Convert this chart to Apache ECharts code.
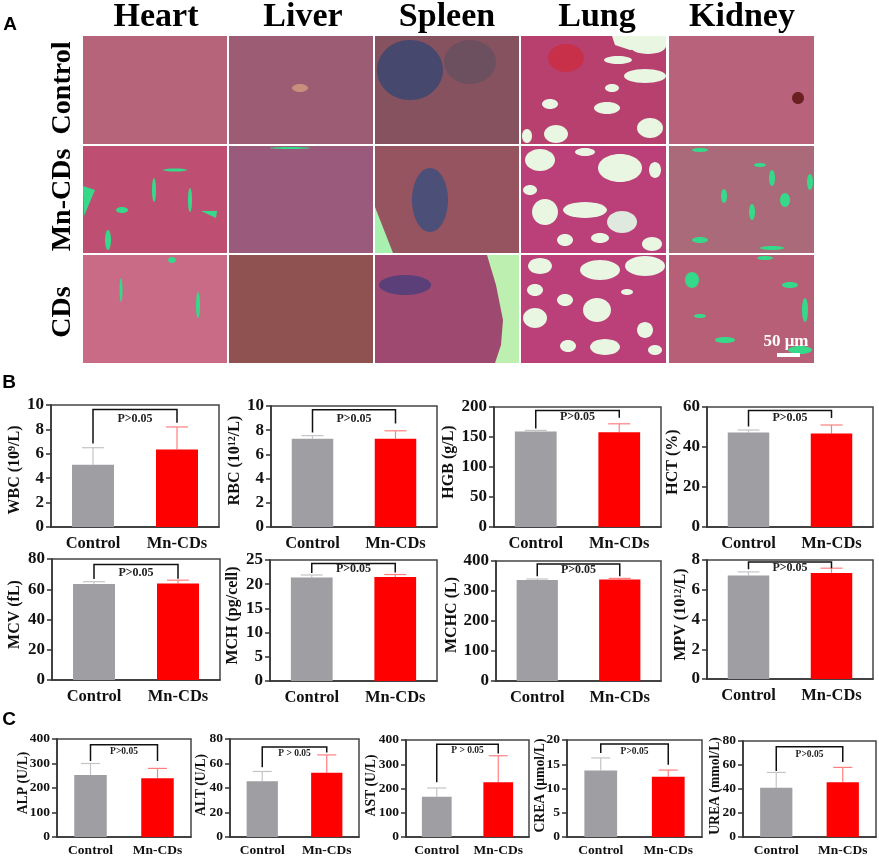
<!DOCTYPE html>
<html>
<head>
<meta charset="utf-8">
<script src="https://cdn.jsdelivr.net/npm/echarts@6/dist/echarts.min.js"></script>
<style>
    html, body { margin: 0; padding: 0; background: #fff; }
    #main { width: 879px; height: 858px; }
</style>
</head>
<body>
<div id="main"></div>
<script>
// Values, one entry per small chart
const categories = ["Control", "Mn-CDs"];
const metricNames = ["WBC (10{s|9}/L)", "RBC (10{s|12}/L)", "HGB (g/L)", "HCT (%)", "MCV (fL)", "MCH (pg/cell)", "MCHC (L)", "MPV (10{s|12}/L)", "ALP (U/L)", "ALT (U/L)", "AST (U/L)", "CREA (\u03bcmol/L)", "UREA (mmol/L)"];
const yMax = [10, 10, 200, 60, 80, 25, 400, 8, 400, 80, 400, 20, 80];
const yStep = [2, 2, 50, 20, 20, 5, 100, 2, 100, 20, 100, 5, 20];
const controlMean = [5.1, 7.3, 159, 47.2, 63.5, 21.4, 337, 6.95, 253, 45.5, 166, 13.7, 41];
const controlTop = [6.5, 7.55, 161, 48.5, 65, 21.9, 340, 7.2, 300, 53.5, 202, 16.3, 53.8];
const mnMean = [6.35, 7.3, 158, 46.7, 63.8, 21.5, 338, 7.12, 240, 52.5, 226, 12.4, 45.7];
const mnTop = [8.2, 7.95, 172, 51, 66, 22, 342, 7.45, 280, 67, 335, 13.8, 58];
const bracketTop = [9.64, 9.7, 194, 58.2, 76.3, 24.3, 390, 7.87, 377, 73.5, 382, 19.2, 75.3];
const bracketLeft = [6.85, 7.8, 164, 50.3, 66.8, 22.3, 349, 7.37, 310, 57, 226, 17.3, 55];
const bracketRight = [8.55, 8.55, 182, 54.5, 67, 22.4, 349, 7.45, 310, 68.9, 344, 14.9, 62.6];
const pLabelY = [8.9, 8.95, 183, 54.5, 71, 23.1, 369, 7.45, 350, 68, 355, 17.7, 69];
const pLabels = ["P>0.05", "P>0.05", "P>0.05", "P>0.05", "P>0.05", "P>0.05", "P>0.05", "P>0.05", "P>0.05", "P > 0.05", "P > 0.05", "P>0.05", "P>0.05"];

// Layout of the small charts: left, top, right, bottom, x of the y title, how far the title sits above the middle
const frames = [
    [51, 405, 219, 527, 15, -4], [271, 406, 437, 527, 235, 6], [494, 407, 661, 527, 449, 5], [707, 407, 873, 527, 673, 5],
    [52, 559, 220, 680, 15, 5], [270, 560, 437, 681, 233, 5], [496, 561, 661, 681, 452, 6], [707, 560, 873, 679, 681, 5],
    [57, 739, 191, 837, 23, 5], [230, 739, 359, 837, 201, 3], [406, 740, 529, 838, 371, 3], [567, 740, 702, 837, 540, 3], [743, 741, 876, 837, 715, 3]
];

const SERIF = '"Liberation Serif", serif';
const GREY = "#9e9ea3";
const RED = "#ff0000";

// Tissue panels of part A
const panelCols = [[83, 227], [229, 373], [375, 519], [521, 666], [669, 814]];
const panelRows = [[36, 144], [146, 253], [255, 363]];
const panelColors = [
    ["#b5647a", "#9b5c74", "#87525f", "#b8406f", "#b9627c"],
    ["#bf4f72", "#9a5a7c", "#95545f", "#bb3f78", "#aa6a7a"],
    ["#c96a86", "#8f5250", "#9e4a70", "#bb3f78", "#b85f78"]
];
const colNames = ["Heart", "Liver", "Spleen", "Lung", "Kidney"];
const colCenters = [156, 303, 447, 597, 742];
const rowNames = ["Control", "Mn-CDs", "CDs"];
const rowCenters = [88, 200, 312];

const PALE = "#e8f6e2";
const MINT = "#36d88a";
// cx, cy, rx, ry, colour
const panelBlobs = [
    [410, 70, 33, 30, "#46486e"], [430, 200, 18, 32, "#4c4f78"], [405, 285, 26, 10, "#5a3f78"], [470, 62, 26, 22, "#6c5060"],
    [300, 88, 8, 4, "#c8907a"], [798, 98, 6, 6, "#6a2020"], [566, 58, 18, 14, "#c8304a"],
    [648, 46, 18, 8, PALE], [645, 76, 21, 7, PALE], [556, 134, 12, 9, PALE], [607, 108, 13, 6, PALE], [550, 104, 8, 5, PALE],
    [650, 128, 13, 10, PALE], [527, 136, 5, 7, PALE], [618, 60, 14, 4, PALE], [612, 88, 7, 4, PALE],
    [620, 168, 22, 14, PALE], [540, 160, 15, 11, PALE], [585, 152, 10, 4, PALE], [545, 212, 13, 13, PALE], [585, 210, 22, 8, PALE],
    [622, 222, 15, 11, "#dfe9dd"], [530, 190, 7, 5, PALE], [600, 238, 9, 5, PALE], [652, 244, 10, 7, PALE], [565, 240, 8, 6, PALE], [655, 170, 6, 8, PALE],
    [600, 270, 20, 10, PALE], [540, 266, 12, 8, PALE], [645, 266, 20, 10, PALE], [597, 310, 14, 12, PALE], [535, 318, 12, 10, PALE],
    [605, 347, 15, 8, PALE], [568, 346, 8, 6, PALE], [645, 330, 8, 8, PALE], [565, 300, 8, 6, PALE], [627, 292, 6, 3, PALE], [535, 290, 8, 6, PALE], [655, 350, 7, 5, PALE],
    [700, 150, 8, 2, MINT], [760, 165, 6, 2, MINT], [772, 178, 3, 8, MINT], [724, 196, 3, 7, MINT], [752, 212, 3, 8, MINT], [700, 240, 8, 3, MINT], [785, 200, 5, 7, MINT], [810, 182, 3, 8, MINT], [772, 248, 12, 2, MINT],
    [692, 280, 7, 8, MINT], [725, 340, 10, 3, MINT], [805, 310, 3, 12, MINT], [790, 285, 8, 3, MINT], [765, 258, 8, 2, MINT], [800, 350, 12, 4, MINT], [700, 316, 6, 2, MINT],
    [175, 170, 12, 1.5, MINT], [190, 200, 2, 12, MINT], [154, 190, 2, 12, MINT], [122, 210, 6, 3, MINT], [108, 240, 3, 10, MINT], [290, 148, 20, 1, MINT], [172, 260, 4, 3, MINT], [198, 305, 2, 13, MINT], [121, 290, 1.5, 12, MINT]
];
// Pale regions with straight sides, as lists of x, y points
const panelShapes = [
    [[487, 255], [519, 255], [519, 363], [495, 363], [501, 345], [503, 320], [496, 285], "#bdf0b0"],
    [[375, 207], [393, 253], [375, 253], "#a8f0b0"],
    [[612, 36], [666, 36], [666, 47], [630, 50], [615, 45], PALE],
    [[83, 186], [95, 190], [84, 216], MINT],
    [[201, 211], [217, 211], [216, 218], MINT]
];

const graphics = [];
panelRows.forEach(function (row, r) {
    panelCols.forEach(function (col, c) {
        graphics.push({ type: "rect", z: 1, shape: { x: col[0], y: row[0], width: col[1] - col[0], height: row[1] - row[0] }, style: { fill: panelColors[r][c] } });
    });
});
panelBlobs.forEach(function (b) {
    graphics.push({ type: "ellipse", z: 2, shape: { cx: b[0], cy: b[1], rx: b[2], ry: b[3] }, style: { fill: b[4] } });
});
panelShapes.forEach(function (s) {
    graphics.push({ type: "polygon", z: 2, shape: { points: s.slice(0, -1) }, style: { fill: s[s.length - 1] } });
});
colNames.forEach(function (name, i) {
    graphics.push({ type: "text", z: 3, x: colCenters[i], y: 17, style: { text: name, font: "bold 34px " + SERIF, fill: "#000", align: "center", verticalAlign: "middle" } });
});
rowNames.forEach(function (name, i) {
    graphics.push({ type: "text", z: 3, x: 63, y: rowCenters[i], rotation: Math.PI / 2, style: { text: name, font: "bold 28px " + SERIF, fill: "#000", align: "center", verticalAlign: "middle" } });
});
[["A", 10, 25], ["B", 9, 383], ["C", 9, 720]].forEach(function (t) {
    graphics.push({ type: "text", z: 3, x: t[1], y: t[2], style: { text: t[0], font: 'bold 19px "Liberation Sans", sans-serif', fill: "#000", align: "center", verticalAlign: "middle" } });
});
graphics.push({ type: "text", z: 3, x: 786, y: 342, style: { text: "50 \u03bcm", font: "bold 17px " + SERIF, fill: "#fff", align: "center", verticalAlign: "middle" } });
graphics.push({ type: "rect", z: 3, shape: { x: 777, y: 353, width: 23, height: 4 }, style: { fill: "#fff" } });

// Error bar: whisker going up from the bar, with a cap
function errorItem(capHalf, color) {
    return function (params, api) {
        const base = api.coord([api.value(0), api.value(1)]);
        const top = api.coord([api.value(0), api.value(2)]);
        return {
            type: "group",
            children: [
                { type: "line", shape: { x1: base[0], y1: base[1], x2: top[0], y2: top[1] }, style: { stroke: color, lineWidth: 1.2 } },
                { type: "line", shape: { x1: top[0] - capHalf, y1: top[1], x2: top[0] + capHalf, y2: top[1] }, style: { stroke: color, lineWidth: 1.2 } }
            ]
        };
    };
}

// Significance bracket with its label
function bracketItem(text, fontSize) {
    return function (params, api) {
        const a = api.coord([0, api.value(1)]);
        const b = api.coord([0, api.value(0)]);
        const c = api.coord([1, api.value(0)]);
        const d = api.coord([1, api.value(2)]);
        const label = api.coord([0, api.value(3)]);
        return {
            type: "group",
            children: [
                { type: "polyline", shape: { points: [a, b, c, d] }, style: { stroke: "#111", lineWidth: 1.5, fill: null } },
                { type: "text", x: (a[0] + d[0]) / 2, y: label[1], style: { text: text, font: "bold " + fontSize + "px " + SERIF, fill: "#222", align: "center", verticalAlign: "middle" } }
            ]
        };
    };
}

const grids = [], xAxes = [], yAxes = [], seriesList = [];
metricNames.forEach(function (name, i) {
    const f = frames[i];
    const small = i >= 8;
    const width = f[2] - f[0];
    grids.push({ show: true, left: f[0], top: f[1], width: width, height: f[3] - f[1], borderColor: "#444", borderWidth: 1.5, backgroundColor: "transparent" });
    xAxes.push({
        gridIndex: i, type: "category", data: categories,
        axisLine: { lineStyle: { color: "#333", width: 1.5 } },
        axisTick: { alignWithLabel: true, length: 4, lineStyle: { color: "#333", width: 1.5 } },
        axisLabel: { interval: 0, margin: small ? 7 : 8, color: "#111", fontFamily: SERIF, fontWeight: "bold", fontSize: small ? 13.5 : 16.5 }
    });
    yAxes.push({
        gridIndex: i, type: "value", min: 0, max: yMax[i], interval: yStep[i],
        name: name, nameLocation: "middle", nameGap: f[0] - f[4] - (small ? 7 : 8), nameMoveOverlap: false,
        nameTextStyle: {
            color: "#111", fontFamily: SERIF, fontWeight: "bold", fontSize: small ? 13.7 : 16,
            padding: f[5] > 0 ? [0, 0, 0, f[5] * 2] : [0, -f[5] * 2, 0, 0],
            rich: { s: { fontSize: 10, fontFamily: SERIF, fontWeight: "bold", color: "#111", verticalAlign: "top", lineHeight: 12 } }
        },
        splitLine: { show: false },
        axisLine: { show: true, lineStyle: { color: "#333", width: 1.5 } },
        axisTick: { show: true, length: 5, lineStyle: { color: "#333", width: 1.5 } },
        axisLabel: { margin: 7, color: "#111", fontFamily: SERIF, fontWeight: "bold", fontSize: small ? 13.5 : 17 }
    });
    seriesList.push({
        type: "bar", xAxisIndex: i, yAxisIndex: i, barWidth: width / 4 + (small ? -1 : 0),
        data: [
            { value: controlMean[i], itemStyle: { color: GREY } },
            { value: mnMean[i], itemStyle: { color: RED } }
        ],
        silent: true
    });
    const capHalf = small ? 9.5 : 11;
    seriesList.push({
        type: "custom", xAxisIndex: i, yAxisIndex: i, silent: true, z: 1,
        renderItem: errorItem(capHalf, "#c4c4c8"), data: [[0, controlMean[i], controlTop[i]]]
    });
    seriesList.push({
        type: "custom", xAxisIndex: i, yAxisIndex: i, silent: true, z: 1,
        renderItem: errorItem(capHalf, "#ff7f7f"), data: [[1, mnMean[i], mnTop[i]]]
    });
    seriesList.push({
        type: "custom", xAxisIndex: i, yAxisIndex: i, silent: true, z: 3,
        renderItem: bracketItem(pLabels[i], small ? 9.5 : 12),
        data: [[bracketTop[i], bracketLeft[i], bracketRight[i], pLabelY[i]]],
        encode: { x: -1, y: [0, 1, 2, 3] }
    });
});

const chart = echarts.init(document.getElementById("main"));
chart.setOption({
    animation: false,
    backgroundColor: "#fff",
    grid: grids,
    xAxis: xAxes,
    yAxis: yAxes,
    series: seriesList,
    graphic: { elements: graphics }
});
</script>
</body>
</html>
